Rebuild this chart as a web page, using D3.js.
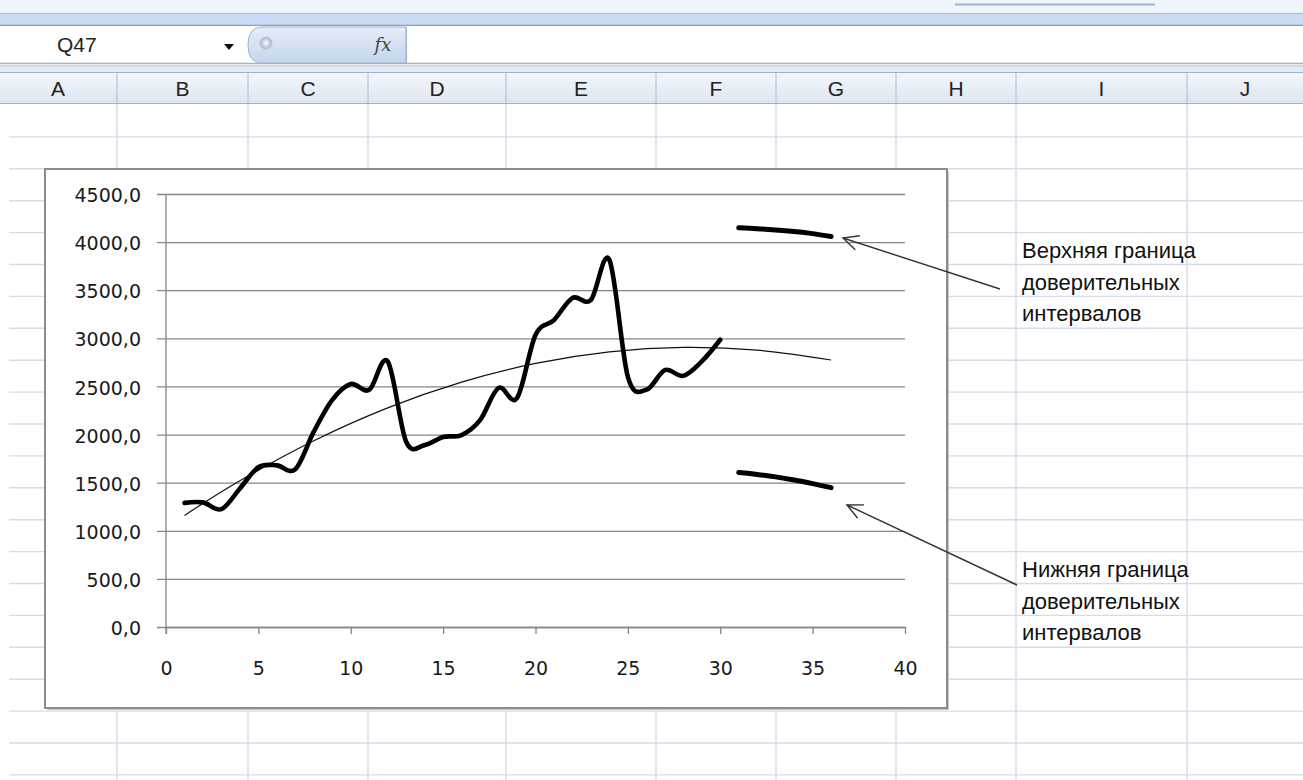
<!DOCTYPE html>
<html lang="ru">
<head>
<meta charset="UTF-8">
<title>Доверительные интервалы прогноза</title>
<script src="https://d3js.org/d3.v7.min.js"></script>
<style>
  body { margin: 0; background: #fff; }
  svg { display: block; }
  .tick text { font-family: "DejaVu Sans", sans-serif; font-size: 19px; fill: #1a1a1a; }
  .hdr { font-family: "Liberation Sans", Arial, sans-serif; font-size: 21px; fill: #222; }
  .note { font-family: "Liberation Sans", Arial, sans-serif; font-size: 22px; fill: #111; }
</style>
</head>
<body>
<script>
// ---- data ----
const periods = d3.range(1, 31);
const sales = [1290, 1295, 1225, 1440, 1660, 1680, 1640, 2030, 2360, 2525,
               2465, 2760, 1925, 1890, 1975, 1995, 2150, 2485, 2380, 3035,
               3190, 3420, 3400, 3815, 2600, 2465, 2670, 2610, 2760, 2985];

const trendX = [1, 4, 8, 12, 16, 20, 24, 28, 32, 36];
const trendY = [1160, 1520, 1935, 2277, 2545, 2739, 2859, 2905, 2877, 2775];

const forecastX = [31, 32, 33, 34, 35, 36];
const upperY = [4148, 4140, 4127, 4110, 4088, 4058];
const lowerY = [1605, 1585, 1560, 1528, 1490, 1448];

const yTicks = [0, 500, 1000, 1500, 2000, 2500, 3000, 3500, 4000, 4500];
const xTicks = [0, 5, 10, 15, 20, 25, 30, 35, 40];

const columns = ["A", "B", "C", "D", "E", "F", "G", "H", "I", "J"];
const colEdges = [-1, 117, 248, 368, 506, 656, 776, 896, 1016, 1187, 1303];

const upperNote = ["Верхняя граница", "доверительных", "интервалов"];
const lowerNote = ["Нижняя граница", "доверительных", "интервалов"];

// ---- page ----
const W = 1303, H = 780;
const svg = d3.select("body").append("svg").attr("width", W).attr("height", H);
const defs = svg.append("defs");

const hg = defs.append("linearGradient").attr("id", "hdrGrad").attr("x1", 0).attr("y1", 0).attr("x2", 0).attr("y2", 1);
hg.append("stop").attr("offset", 0).attr("stop-color", "#f4f7fb");
hg.append("stop").attr("offset", 1).attr("stop-color", "#dde6f1");

const pg = defs.append("linearGradient").attr("id", "pillGrad").attr("x1", 0).attr("y1", 0).attr("x2", 0).attr("y2", 1);
pg.append("stop").attr("offset", 0).attr("stop-color", "#e6eef8");
pg.append("stop").attr("offset", 1).attr("stop-color", "#c3d5ec");

const cg = defs.append("radialGradient").attr("id", "dotGrad");
cg.append("stop").attr("offset", 0).attr("stop-color", "#ffffff");
cg.append("stop").attr("offset", 1).attr("stop-color", "#a9b4c2");

// top bars
svg.append("rect").attr("x", 0).attr("y", 0).attr("width", W).attr("height", 14).attr("fill", "#eef5fc");
svg.append("line").attr("x1", 955).attr("x2", 1155).attr("y1", 4.5).attr("y2", 4.5).attr("stroke", "#a3b4ca").attr("stroke-width", 2);
svg.append("rect").attr("x", 0).attr("y", 14).attr("width", W).attr("height", 11).attr("fill", "#c9dcf3");
svg.append("line").attr("x1", 0).attr("x2", W).attr("y1", 13.5).attr("y2", 13.5).attr("stroke", "#a9bdd6");
svg.append("line").attr("x1", 0).attr("x2", W).attr("y1", 25.5).attr("y2", 25.5).attr("stroke", "#8aa0bd").attr("stroke-width", 1.5);
svg.append("rect").attr("x", 0).attr("y", 26).attr("width", W).attr("height", 37).attr("fill", "#fff");
svg.append("line").attr("x1", 0).attr("x2", W).attr("y1", 63.5).attr("y2", 63.5).attr("stroke", "#9fb3cb").attr("stroke-width", 1.5);
svg.append("rect").attr("x", 0).attr("y", 65).attr("width", W).attr("height", 7).attr("fill", "#e4ecf6");
svg.append("line").attr("x1", 0).attr("x2", W).attr("y1", 66).attr("y2", 66).attr("stroke", "#b7c8dc");

// name box
svg.append("text").attr("class", "hdr").attr("x", 57).attr("y", 45).attr("dy", "0.35em").text("Q47");
svg.append("path").attr("d", "M224,44 L234,44 L229,50 Z").attr("fill", "#111");

// fx pill
svg.append("path")
  .attr("d", "M262,27 L406,27 L406,63 L262,63 Q248,63 248,45 Q248,27 262,27 Z")
  .attr("fill", "url(#pillGrad)").attr("stroke", "#9fb3cb");
svg.append("circle").attr("cx", 266).attr("cy", 43).attr("r", 6).attr("fill", "url(#dotGrad)").attr("stroke", "#b5c0cd");
svg.append("text").attr("x", 383).attr("y", 45).attr("dy", "0.35em").attr("text-anchor", "middle")
  .style("font-family", "'DejaVu Serif', serif").style("font-style", "italic").style("font-size", "18px")
  .attr("fill", "#444").text("fx");
svg.append("line").attr("x1", 406.5).attr("x2", 406.5).attr("y1", 27).attr("y2", 63).attr("stroke", "#9fb3cb");

// column header band
svg.append("rect").attr("x", 0).attr("y", 72).attr("width", W).attr("height", 31).attr("fill", "url(#hdrGrad)");
svg.append("line").attr("x1", 0).attr("x2", W).attr("y1", 72.5).attr("y2", 72.5).attr("stroke", "#9eb4cd");
svg.append("line").attr("x1", 0).attr("x2", W).attr("y1", 103.5).attr("y2", 103.5).attr("stroke", "#9eb4cd");

const colX = d3.scaleOrdinal().domain(columns).range(columns.map((c, i) => (colEdges[i] + colEdges[i + 1]) / 2));
svg.selectAll(".colLbl").data(columns).join("text")
  .attr("class", "hdr").attr("x", d => colX(d)).attr("y", 89).attr("dy", "0.35em")
  .attr("text-anchor", "middle").text(d => d);

// sheet grid
const grid = svg.append("g").attr("stroke", "#d4dcea").attr("stroke-width", 1.4);
grid.selectAll(".vl").data(colEdges.slice(1, -1)).join("line")
  .attr("x1", d => d).attr("x2", d => d).attr("y1", 104).attr("y2", H);
grid.selectAll(".rl").data(d3.range(1, 22)).join("line")
  .attr("x1", 9).attr("x2", W).attr("y1", d => 105 + d * 31.9).attr("y2", d => 105 + d * 31.9);
svg.selectAll(".hsep").data(colEdges.slice(1, -1)).join("line")
  .attr("x1", d => d).attr("x2", d => d).attr("y1", 73).attr("y2", 103).attr("stroke", "#a9bcd3");

// chart frame
svg.append("rect").attr("x", 47).attr("y", 171).attr("width", 902).attr("height", 539).attr("fill", "#c8c8c8");
svg.append("rect").attr("x", 45).attr("y", 169).attr("width", 902).attr("height", 539)
  .attr("fill", "#fff").attr("stroke", "#8c8c8c").attr("stroke-width", 2);

// ---- chart ----
const x = d3.scaleLinear().domain([0, 40]).range([166, 905]);
const y = d3.scaleLinear().domain([0, 4500]).range([627, 194]);
const fmt = d => d3.format(".1f")(d).replace(".", ",");

const yAxis = svg.append("g").attr("transform", "translate(157,0)")
  .call(d3.axisLeft(y).tickValues(yTicks).tickFormat(fmt).tickSize(-(905 - 157)).tickSizeOuter(0).tickPadding(16));
yAxis.select(".domain").remove();
yAxis.selectAll(".tick line").attr("stroke", "#868686").attr("stroke-width", 1.3);
yAxis.selectAll(".tick text").attr("dy", "0.4em");

const xAxis = svg.append("g").attr("transform", "translate(0,627)")
  .call(d3.axisBottom(x).tickValues(xTicks).tickSize(7).tickSizeOuter(0));
xAxis.select(".domain").attr("stroke", "#868686").attr("stroke-width", 1.3);
xAxis.selectAll(".tick line").attr("stroke", "#868686").attr("stroke-width", 1.3);
xAxis.selectAll(".tick text").attr("y", 41).attr("dy", "0.35em");

svg.append("line").attr("x1", x(0)).attr("x2", x(0)).attr("y1", y(4500)).attr("y2", 634)
  .attr("stroke", "#868686").attr("stroke-width", 1.3);

const smooth = d3.line().x(d => x(d[0])).y(d => y(d[1])).curve(d3.curveCardinal.tension(0));

svg.append("path").datum(d3.zip(trendX, trendY)).attr("d", smooth)
  .attr("fill", "none").attr("stroke", "#111").attr("stroke-width", 1.2);

svg.append("path").datum(d3.zip(periods, sales)).attr("d", smooth)
  .attr("fill", "none").attr("stroke", "#000").attr("stroke-width", 4.6)
  .attr("stroke-linejoin", "round").attr("stroke-linecap", "round");

[upperY, lowerY].forEach(vals => {
  svg.append("path").datum(d3.zip(forecastX, vals)).attr("d", smooth)
    .attr("fill", "none").attr("stroke", "#000").attr("stroke-width", 5)
    .attr("stroke-linecap", "round");
});

// ---- annotations ----
function arrow(x1, y1, x2, y2) {
  const a = Math.atan2(y1 - y2, x1 - x2), L = 17, s = 0.45;
  svg.append("line").attr("x1", x1).attr("y1", y1).attr("x2", x2).attr("y2", y2)
    .attr("stroke", "#333").attr("stroke-width", 1.4);
  svg.append("path")
    .attr("d", `M${x2 + L * Math.cos(a - s)},${y2 + L * Math.sin(a - s)} L${x2},${y2} L${x2 + L * Math.cos(a + s)},${y2 + L * Math.sin(a + s)}`)
    .attr("fill", "none").attr("stroke", "#333").attr("stroke-width", 1.4);
}
arrow(1000, 289, 843, 238);
arrow(1017, 585, 847, 505);

svg.selectAll(".upN").data(upperNote).join("text").attr("class", "note")
  .attr("x", 1022).attr("y", (d, i) => [258, 290, 321][i]).text(d => d);
svg.selectAll(".loN").data(lowerNote).join("text").attr("class", "note")
  .attr("x", 1022).attr("y", (d, i) => [577, 609, 640][i]).text(d => d);
</script>
</body>
</html>
